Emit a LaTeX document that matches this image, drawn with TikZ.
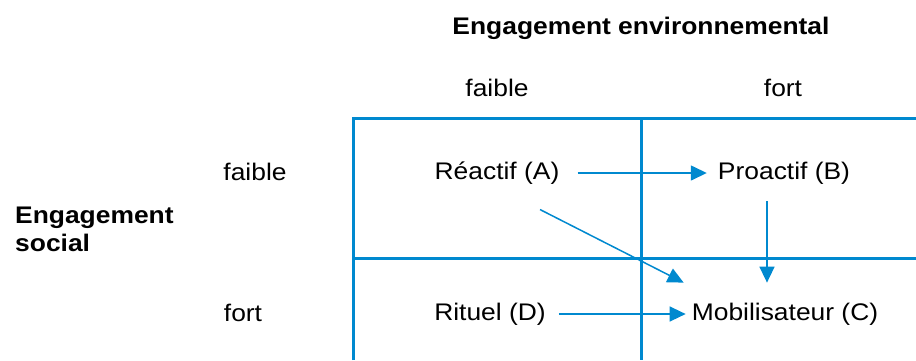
\documentclass[tikz,border=0pt]{standalone}
\usepackage{fontspec}
\setmainfont{Liberation Sans}[FakeStretch=1.1]
\usetikzlibrary{arrows.meta,calc}
\definecolor{gridblue}{RGB}{0,137,207}

\begin{document}
\begin{tikzpicture}[x=1pt, y=-1pt,
    every node/.style={font=\fontsize{24}{28}\selectfont, inner sep=0pt},
    quad/.style={gridblue, line width=3pt},
    link/.style={gridblue, line width=1.5pt, -{Triangle[length=16pt,width=15pt]}}]
      \useasboundingbox (0,0) rectangle (916,360);
      \draw [quad] (353,360) -- (353,118) -- (916,118);
      \draw [quad] (353,258) -- (916,258);
      \draw [quad] (641,118) -- (641,360);
      \node (env) at (641,28) {\bfseries Engagement environnemental};
      \node (envlow) at (497,88) {faible};
      \node (envhigh) at (783,88) {fort};
      \node (soc) [anchor=west, align=left] at (15,229) {\bfseries Engagement\\\bfseries social};
      \node (soclow) at (255,172) {faible};
      \node (sochigh) at (243,313) {fort};
      \node (A) at (497,173) {Réactif (A)};
      \node (B) at (784,173) {Proactif (B)};
      \node (D) at (490,314) {Rituel (D)};
      \node (C) at (785,314) {Mobilisateur (C)};
      \draw [link] ([xshift=18pt]A.east) -- ([xshift=-11pt]B.west);
      \draw [link] ($(B.south)+(-17,17)$) -- ($(B.south |- C.north)+(-17,-20)$);
      \draw [link] ($(A.south)+(43,25)$) -- ($(C.north west)+(-8,-20)$);
      \draw [link] ([xshift=13pt]D.east) -- ([xshift=-6pt]C.west);
\end{tikzpicture}
\end{document}
